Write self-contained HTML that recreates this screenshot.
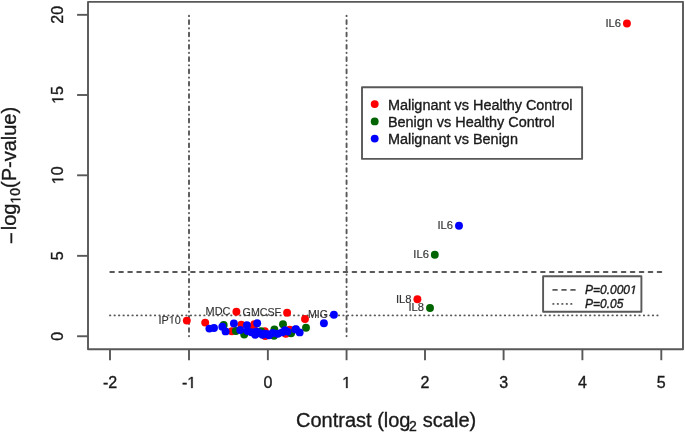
<!DOCTYPE html><html><head><meta charset="utf-8"><style>html,body{margin:0;padding:0;background:#fff;width:685px;height:432px;overflow:hidden}svg{display:block;will-change:transform;}text{font-family:"Liberation Sans",sans-serif}.h{fill-opacity:0;stroke-opacity:0}</style></head><body>
<svg width="685" height="432" viewBox="0 0 685 432">
<rect width="685" height="432" fill="#fff"/>
<rect x="88.0" y="1.85" width="595.0" height="347.45" fill="none" stroke="#585858" stroke-width="1.9" stroke-linejoin="round"/>
<line x1="77.1" y1="336.25" x2="88" y2="336.25" stroke="#585858" stroke-width="1.9"/>
<g transform="translate(63.2,336.25) rotate(-90)"><text fill="#1a1a1a" stroke="#1a1a1a" stroke-width="0.35"><tspan x="-4.45" y="0.00" font-size="16">0</tspan></text></g>
<line x1="77.1" y1="255.85" x2="88" y2="255.85" stroke="#585858" stroke-width="1.9"/>
<g transform="translate(63.2,255.85) rotate(-90)"><text fill="#1a1a1a" stroke="#1a1a1a" stroke-width="0.35"><tspan x="-4.45" y="0.00" font-size="16">5</tspan></text></g>
<line x1="77.1" y1="175.30" x2="88" y2="175.30" stroke="#585858" stroke-width="1.9"/>
<g transform="translate(63.2,175.30) rotate(-90)"><text fill="#1a1a1a" stroke="#1a1a1a" stroke-width="0.35"><tspan x="-8.90" y="0.00" font-size="16"><tspan class="h">1</tspan>0</tspan></text><path d="M515 0V1237L197 1010V1180L530 1409H696V0Z" transform="translate(-8.90,0.00) scale(0.00781,-0.00781)" fill="#1a1a1a" stroke="#1a1a1a" stroke-width="44.8"/></g>
<line x1="77.1" y1="95.00" x2="88" y2="95.00" stroke="#585858" stroke-width="1.9"/>
<g transform="translate(63.2,95.00) rotate(-90)"><text fill="#1a1a1a" stroke="#1a1a1a" stroke-width="0.35"><tspan x="-8.90" y="0.00" font-size="16"><tspan class="h">1</tspan>5</tspan></text><path d="M515 0V1237L197 1010V1180L530 1409H696V0Z" transform="translate(-8.90,0.00) scale(0.00781,-0.00781)" fill="#1a1a1a" stroke="#1a1a1a" stroke-width="44.8"/></g>
<line x1="77.1" y1="14.83" x2="88" y2="14.83" stroke="#585858" stroke-width="1.9"/>
<g transform="translate(63.2,14.83) rotate(-90)"><text fill="#1a1a1a" stroke="#1a1a1a" stroke-width="0.35"><tspan x="-8.90" y="0.00" font-size="16">20</tspan></text></g>
<line x1="110.00" y1="349.3" x2="110.00" y2="360.2" stroke="#585858" stroke-width="1.9"/>
<text fill="#1a1a1a" stroke="#1a1a1a" stroke-width="0.35"><tspan x="102.89" y="388.00" font-size="16">-2</tspan></text>
<line x1="189.00" y1="349.3" x2="189.00" y2="360.2" stroke="#585858" stroke-width="1.9"/>
<text fill="#1a1a1a" stroke="#1a1a1a" stroke-width="0.35"><tspan x="181.89" y="388.00" font-size="16">-<tspan class="h">1</tspan></tspan></text><path d="M515 0V1237L197 1010V1180L530 1409H696V0Z" transform="translate(187.21,388.00) scale(0.00781,-0.00781)" fill="#1a1a1a" stroke="#1a1a1a" stroke-width="44.8"/>
<line x1="267.86" y1="349.3" x2="267.86" y2="360.2" stroke="#585858" stroke-width="1.9"/>
<text fill="#1a1a1a" stroke="#1a1a1a" stroke-width="0.35"><tspan x="263.41" y="388.00" font-size="16">0</tspan></text>
<line x1="346.56" y1="349.3" x2="346.56" y2="360.2" stroke="#585858" stroke-width="1.9"/>
<text fill="#1a1a1a" stroke="#1a1a1a" stroke-width="0.35"><tspan x="342.11" y="388.00" font-size="16"><tspan class="h">1</tspan></tspan></text><path d="M515 0V1237L197 1010V1180L530 1409H696V0Z" transform="translate(342.11,388.00) scale(0.00781,-0.00781)" fill="#1a1a1a" stroke="#1a1a1a" stroke-width="44.8"/>
<line x1="425.00" y1="349.3" x2="425.00" y2="360.2" stroke="#585858" stroke-width="1.9"/>
<text fill="#1a1a1a" stroke="#1a1a1a" stroke-width="0.35"><tspan x="420.55" y="388.00" font-size="16">2</tspan></text>
<line x1="503.60" y1="349.3" x2="503.60" y2="360.2" stroke="#585858" stroke-width="1.9"/>
<text fill="#1a1a1a" stroke="#1a1a1a" stroke-width="0.35"><tspan x="499.15" y="388.00" font-size="16">3</tspan></text>
<line x1="582.40" y1="349.3" x2="582.40" y2="360.2" stroke="#585858" stroke-width="1.9"/>
<text fill="#1a1a1a" stroke="#1a1a1a" stroke-width="0.35"><tspan x="577.95" y="388.00" font-size="16">4</tspan></text>
<line x1="661.30" y1="349.3" x2="661.30" y2="360.2" stroke="#585858" stroke-width="1.9"/>
<text fill="#1a1a1a" stroke="#1a1a1a" stroke-width="0.35"><tspan x="656.85" y="388.00" font-size="16">5</tspan></text>
<line x1="189.00" y1="336.35" x2="189.00" y2="14.83" stroke="#585858" stroke-width="1.9" stroke-linecap="round" stroke-dasharray="0.339 4.139 3.698 4.139"/>
<line x1="346.56" y1="336.35" x2="346.56" y2="14.83" stroke="#585858" stroke-width="1.9" stroke-linecap="round" stroke-dasharray="0.339 4.139 3.698 4.139"/>
<line x1="110.3" y1="271.95" x2="661.3" y2="271.95" stroke="#585858" stroke-width="1.9" stroke-linecap="round" stroke-dasharray="3.708 5.265"/>
<line x1="110.0" y1="315.4" x2="661.3" y2="315.4" stroke="#585858" stroke-width="1.9" stroke-linecap="round" stroke-dasharray="0.343 4.143"/>
<text fill="#333333" stroke="#333333" stroke-width="0.15"><tspan x="605.48" y="26.95" font-size="11.2">IL6</tspan></text>
<text fill="#333333" stroke="#333333" stroke-width="0.15"><tspan x="437.53" y="229.20" font-size="11.2">IL6</tspan></text>
<text fill="#333333" stroke="#333333" stroke-width="0.15"><tspan x="413.33" y="258.10" font-size="11.2">IL6</tspan></text>
<text fill="#333333" stroke="#333333" stroke-width="0.15"><tspan x="395.93" y="302.60" font-size="11.2">IL8</tspan></text>
<text fill="#333333" stroke="#333333" stroke-width="0.15"><tspan x="408.53" y="311.40" font-size="11.2">IL8</tspan></text>
<g transform="translate(180.90,0) scale(0.97,1) translate(-180.90,0)"><text fill="#333333" stroke="#333333" stroke-width="0.15"><tspan x="157.86" y="323.60" font-size="11.2">IP<tspan class="h">1</tspan>0</tspan></text><path d="M515 0V1237L197 1010V1180L530 1409H696V0Z" transform="translate(168.44,323.60) scale(0.00547,-0.00547)" fill="#333333" stroke="#333333" stroke-width="27.4"/></g>
<g transform="translate(230.50,0) scale(0.975,1) translate(-230.50,0)"><text fill="#333333" stroke="#333333" stroke-width="0.15"><tspan x="204.99" y="315.10" font-size="11.2">MDC</tspan></text></g>
<g transform="translate(281.20,0) scale(0.955,1) translate(-281.20,0)"><text fill="#333333" stroke="#333333" stroke-width="0.15"><tspan x="240.76" y="316.10" font-size="11.2">GMCSF</tspan></text></g>
<g transform="translate(328.00,0) scale(0.945,1) translate(-328.00,0)"><text fill="#333333" stroke="#333333" stroke-width="0.15"><tspan x="306.85" y="318.20" font-size="11.2">MIG</tspan></text></g>
<circle cx="626.95" cy="23.55" r="3.95" fill="#ff0000"/>
<circle cx="417.4" cy="299.2" r="3.95" fill="#ff0000"/>
<circle cx="186.8" cy="320.6" r="3.95" fill="#ff0000"/>
<circle cx="236.4" cy="311.7" r="3.95" fill="#ff0000"/>
<circle cx="287.1" cy="312.7" r="3.95" fill="#ff0000"/>
<circle cx="305.0" cy="319.0" r="3.95" fill="#ff0000"/>
<circle cx="205.2" cy="322.6" r="3.95" fill="#ff0000"/>
<circle cx="231.8" cy="331.2" r="3.95" fill="#ff0000"/>
<circle cx="241.3" cy="324.6" r="3.95" fill="#ff0000"/>
<circle cx="254.3" cy="324.2" r="3.95" fill="#ff0000"/>
<circle cx="253.6" cy="326.0" r="3.95" fill="#ff0000"/>
<circle cx="264.8" cy="331.3" r="3.95" fill="#ff0000"/>
<circle cx="289.7" cy="329.8" r="3.95" fill="#ff0000"/>
<circle cx="285.8" cy="333.8" r="3.95" fill="#ff0000"/>
<circle cx="265.2" cy="336.0" r="3.95" fill="#ff0000"/>
<circle cx="434.8" cy="254.7" r="3.95" fill="#006400"/>
<circle cx="430.0" cy="308.0" r="3.95" fill="#006400"/>
<circle cx="223.7" cy="324.9" r="3.95" fill="#006400"/>
<circle cx="235.9" cy="331.0" r="3.95" fill="#006400"/>
<circle cx="244.2" cy="334.5" r="3.95" fill="#006400"/>
<circle cx="261.0" cy="331.3" r="3.95" fill="#006400"/>
<circle cx="283" cy="324.3" r="3.95" fill="#006400"/>
<circle cx="274.4" cy="329.4" r="3.95" fill="#006400"/>
<circle cx="291.1" cy="333.3" r="3.95" fill="#006400"/>
<circle cx="306.0" cy="327.7" r="3.95" fill="#006400"/>
<circle cx="274.0" cy="335.8" r="3.95" fill="#006400"/>
<circle cx="459.0" cy="225.8" r="3.95" fill="#0000ff"/>
<circle cx="333.9" cy="314.8" r="3.95" fill="#0000ff"/>
<circle cx="323.9" cy="323.2" r="3.95" fill="#0000ff"/>
<circle cx="209.4" cy="328.6" r="3.95" fill="#0000ff"/>
<circle cx="214.0" cy="328.0" r="3.95" fill="#0000ff"/>
<circle cx="222.3" cy="326.8" r="3.95" fill="#0000ff"/>
<circle cx="225.6" cy="331.4" r="3.95" fill="#0000ff"/>
<circle cx="233.9" cy="323.5" r="3.95" fill="#0000ff"/>
<circle cx="240.2" cy="330.0" r="3.95" fill="#0000ff"/>
<circle cx="246.9" cy="325.2" r="3.95" fill="#0000ff"/>
<circle cx="257.2" cy="323.3" r="3.95" fill="#0000ff"/>
<circle cx="247.5" cy="331.0" r="3.95" fill="#0000ff"/>
<circle cx="251.3" cy="332.2" r="3.95" fill="#0000ff"/>
<circle cx="255.2" cy="334.8" r="3.95" fill="#0000ff"/>
<circle cx="256.5" cy="331.5" r="3.95" fill="#0000ff"/>
<circle cx="259.4" cy="333" r="3.95" fill="#0000ff"/>
<circle cx="262.5" cy="334.8" r="3.95" fill="#0000ff"/>
<circle cx="264.6" cy="333.7" r="3.95" fill="#0000ff"/>
<circle cx="269" cy="335.2" r="3.95" fill="#0000ff"/>
<circle cx="272.8" cy="333" r="3.95" fill="#0000ff"/>
<circle cx="267.6" cy="334.1" r="3.95" fill="#0000ff"/>
<circle cx="277.8" cy="333.7" r="3.95" fill="#0000ff"/>
<circle cx="282.1" cy="332.4" r="3.95" fill="#0000ff"/>
<circle cx="285.0" cy="330.2" r="3.95" fill="#0000ff"/>
<circle cx="287.6" cy="331.6" r="3.95" fill="#0000ff"/>
<circle cx="295.4" cy="329.4" r="3.95" fill="#0000ff"/>
<circle cx="299.7" cy="332.4" r="3.95" fill="#0000ff"/>
<circle cx="296" cy="329.2" r="3.95" fill="#0000ff"/>
<rect x="362.0" y="87.3" width="220.1" height="71.6" fill="#fff" stroke="#585858" stroke-width="1.9" stroke-linejoin="round"/>
<circle cx="374.7" cy="104.10" r="3.95" fill="#ff0000"/>
<text fill="#1a1a1a" stroke="#1a1a1a" stroke-width="0.35"><tspan x="387.90" y="110.00" font-size="14.45">Malignant vs Healthy Control</tspan></text>
<circle cx="374.7" cy="121.40" r="3.95" fill="#006400"/>
<text fill="#1a1a1a" stroke="#1a1a1a" stroke-width="0.35"><tspan x="387.90" y="127.05" font-size="14.45">Benign vs Healthy Control</tspan></text>
<circle cx="374.7" cy="138.60" r="3.95" fill="#0000ff"/>
<text fill="#1a1a1a" stroke="#1a1a1a" stroke-width="0.35"><tspan x="387.90" y="144.10" font-size="14.45">Malignant vs Benign</tspan></text>
<rect x="543.1" y="276.25" width="98.3" height="35.45" fill="#fff" stroke="#585858" stroke-width="1.9" stroke-linejoin="round"/>
<line x1="553.2" y1="289.9" x2="575" y2="289.9" stroke="#585858" stroke-width="1.9" stroke-linecap="round" stroke-dasharray="3.708 5.265"/>
<line x1="553.2" y1="303.9" x2="575" y2="303.9" stroke="#585858" stroke-width="1.9" stroke-linecap="round" stroke-dasharray="0.343 4.143"/>
<text fill="#1a1a1a" stroke="#1a1a1a" stroke-width="0.35" font-style="italic"><tspan x="585.00" y="293.90" font-size="12">P=0.000<tspan class="h">1</tspan></tspan></text><path d="M412.3 0L650 1223L289 1000L324 1180L701 1409H867L593.3 0Z" transform="translate(630.04,293.90) scale(0.00586,-0.00586)" fill="#1a1a1a" stroke="#1a1a1a" stroke-width="59.7"/>
<text fill="#1a1a1a" stroke="#1a1a1a" stroke-width="0.35" font-style="italic"><tspan x="585.00" y="307.90" font-size="12">P=0.05</tspan></text>
<text fill="#1a1a1a" stroke="#1a1a1a" stroke-width="0.35"><tspan x="296.00" y="426.80" font-size="20">Contrast (log</tspan><tspan x="408.99" y="430.80" font-size="14">2</tspan><tspan x="417.28" y="426.80" font-size="20"> scale)</tspan></text>
<g transform="translate(16.4,175.4) rotate(-90)"><text fill="#1a1a1a" stroke="#1a1a1a" stroke-width="0.35"><tspan x="-68.54" y="1.30" font-size="20">−</tspan><tspan x="-54.86" y="0.00" font-size="20">log</tspan><tspan x="-28.17" y="4.00" font-size="14"><tspan class="h">1</tspan>0</tspan><tspan x="-12.60" y="0.00" font-size="20">(P-value)</tspan></text><path d="M515 0V1237L197 1010V1180L530 1409H696V0Z" transform="translate(-28.17,4.00) scale(0.00684,-0.00684)" fill="#1a1a1a" stroke="#1a1a1a" stroke-width="51.2"/></g>
</svg></body></html>
